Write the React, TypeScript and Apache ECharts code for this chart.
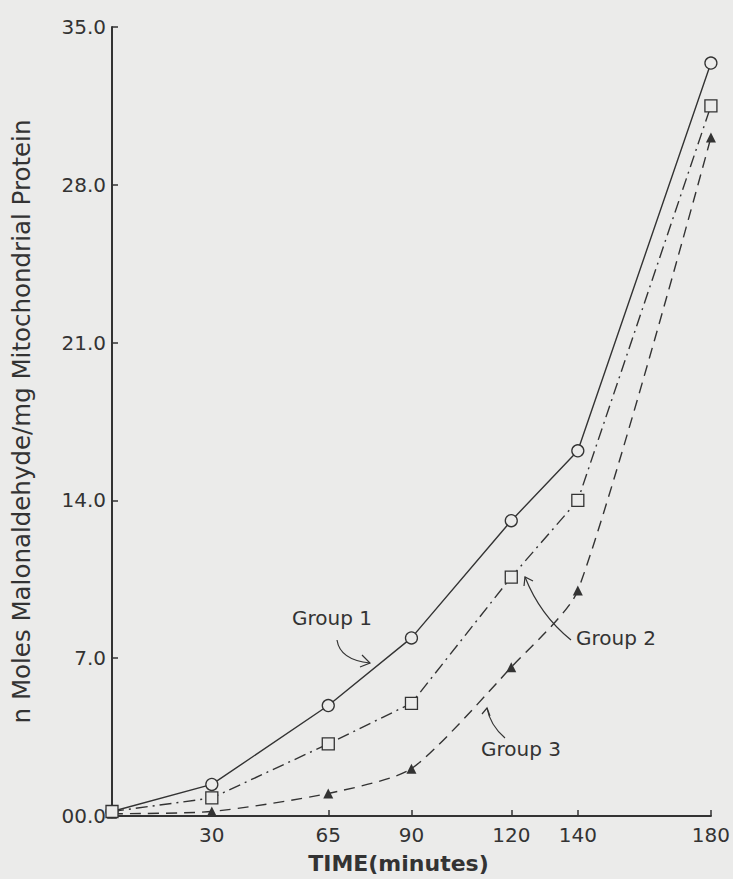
import React, { useEffect, useRef } from "react";
import * as echarts from "echarts";

const times = [0, 30, 65, 90, 120, 140, 180];
const group1 = [0.2, 1.4, 4.9, 7.9, 13.1, 16.2, 33.4];
const group2 = [0.2, 0.8, 3.2, 5.0, 10.6, 14.0, 31.5];
const group3 = [0.1, 0.2, 1.0, 2.1, 6.6, 10.0, 30.1];
const xTickValues = [30, 65, 90, 120, 140, 180];

const BG = "#ebebea";
const INK = "#333333";
const FONT = "DejaVu Sans";

const pairs = (ys: number[]) => times.map((t, i) => [t, ys[i]]);

export default function App() {
  const ref = useRef<HTMLDivElement>(null);
  useEffect(() => {
    if (!ref.current) return;
    const chart = echarts.init(ref.current, null, { renderer: "svg" });
    const lineBase = { color: INK, width: 1.4 };
    chart.setOption({
      animation: false,
      backgroundColor: BG,
      grid: { left: 112, right: 20, top: 27, bottom: 62 },
      xAxis: {
        type: "value",
        min: 0,
        max: 180,
        name: "TIME(minutes)",
        nameLocation: "middle",
        nameGap: 36,
        nameTextStyle: { fontFamily: FONT, fontSize: 22, fontWeight: "bold", color: INK, padding: [0, 26, 0, 0] },
        axisLine: { lineStyle: { color: INK, width: 2 } },
        axisTick: { show: true, inside: true, length: 6, customValues: xTickValues, lineStyle: { color: INK, width: 1.5 } },
        axisLabel: { customValues: xTickValues, margin: 9, fontFamily: FONT, fontSize: 20, color: INK },
        splitLine: { show: false },
      },
      yAxis: {
        type: "value",
        min: 0,
        max: 35,
        interval: 7,
        name: "n Moles Malonaldehyde/mg Mitochondrial Protein",
        nameLocation: "middle",
        nameGap: 78,
        nameTextStyle: { fontFamily: FONT, fontSize: 24.5, color: INK },
        axisLine: { show: true, lineStyle: { color: INK, width: 2 } },
        axisTick: { show: true, inside: true, length: 6, lineStyle: { color: INK, width: 1.5 } },
        axisLabel: {
          margin: 6,
          fontFamily: FONT,
          fontSize: 20,
          color: INK,
          formatter: (v: number) => (v === 0 ? "00.0" : v.toFixed(1)),
        },
        splitLine: { show: false },
      },
      series: [
        {
          name: "Group 1",
          type: "line",
          data: pairs(group1),
          smooth: false,
          symbol: "circle",
          symbolSize: 12,
          itemStyle: { color: BG, borderColor: INK, borderWidth: 1.3 },
          lineStyle: { ...lineBase, type: "solid" },
          z: 3,
        },
        {
          name: "Group 2",
          type: "line",
          data: pairs(group2),
          smooth: false,
          symbol: "rect",
          symbolSize: 12,
          itemStyle: { color: BG, borderColor: INK, borderWidth: 1.3 },
          lineStyle: { ...lineBase, type: [12, 5, 2, 5] },
          z: 4,
        },
        {
          name: "Group 3",
          type: "line",
          data: pairs(group3),
          smooth: 0.22,
          symbol: "triangle",
          symbolSize: 10,
          itemStyle: { color: INK, borderColor: INK, borderWidth: 0 },
          lineStyle: { ...lineBase, type: [11, 7] },
          z: 2,
        },
      ],
      graphic: [
        { type: "text", left: 292, top: 608, style: { text: "Group 1", font: `20px "${FONT}"`, fill: INK } },
        { type: "text", left: 576, top: 628, style: { text: "Group 2", font: `20px "${FONT}"`, fill: INK } },
        { type: "text", left: 481, top: 739, style: { text: "Group 3", font: `20px "${FONT}"`, fill: INK } },
        {
          type: "bezierCurve",
          shape: { x1: 337, y1: 640, x2: 370, y2: 663, cpx1: 340, cpy1: 660 },
          style: { stroke: INK, lineWidth: 1.2, fill: "none" },
        },
        {
          type: "polyline",
          shape: { points: [[362, 655], [370, 663], [360, 667]] },
          style: { stroke: INK, lineWidth: 1.2, fill: "none" },
        },
        {
          type: "bezierCurve",
          shape: { x1: 571, y1: 640, x2: 525, y2: 577, cpx1: 540, cpy1: 615 },
          style: { stroke: INK, lineWidth: 1.2, fill: "none" },
        },
        {
          type: "polyline",
          shape: { points: [[524, 586], [525, 577], [533, 581]] },
          style: { stroke: INK, lineWidth: 1.2, fill: "none" },
        },
        {
          type: "bezierCurve",
          shape: { x1: 505, y1: 738, x2: 487, y2: 708, cpx1: 490, cpy1: 725 },
          style: { stroke: INK, lineWidth: 1.2, fill: "none" },
        },
        {
          type: "polyline",
          shape: { points: [[482, 714], [487, 708], [490, 716]] },
          style: { stroke: INK, lineWidth: 1.2, fill: "none" },
        },
      ],
    });
    return () => chart.dispose();
  }, []);
  return <div ref={ref} style={{ position: "fixed", left: 0, top: 0, width: 733, height: 879 }} />;
}
